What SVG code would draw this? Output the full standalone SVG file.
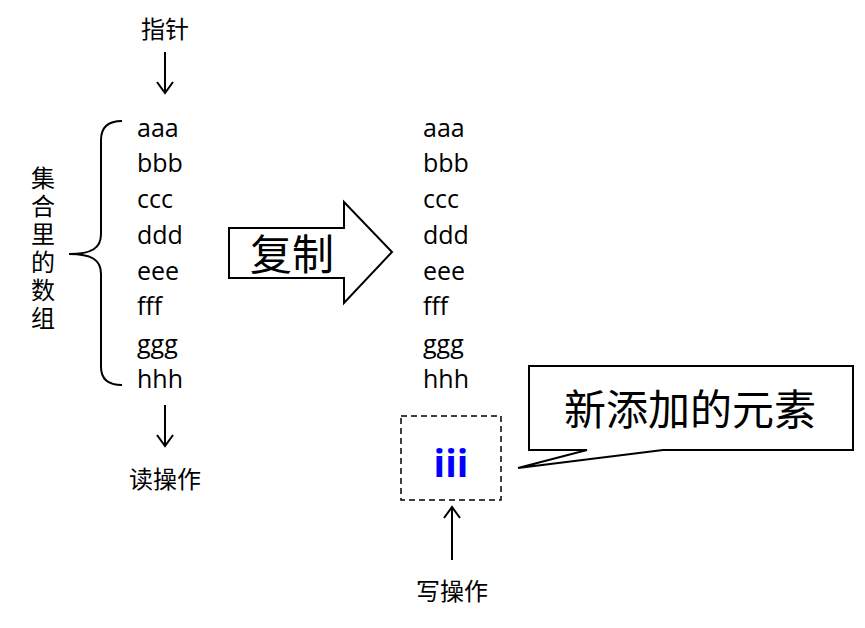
<svg xmlns="http://www.w3.org/2000/svg" width="865" height="628" viewBox="0 0 865 628">
<style>
text{font-family:"Open Sans","Noto Sans CJK SC",sans-serif;fill:#000}
.l{font-size:25px}
.c{font-size:24px}
.ln{fill:none;stroke:#000;stroke-width:2}
</style>
<rect width="865" height="628" fill="#fff"/>
<g id="left-list" class="l">
<text x="137" y="137">aaa</text><text x="137" y="172">bbb</text><text x="137" y="208">ccc</text><text x="137" y="244">ddd</text><text x="137" y="280">eee</text><text x="137" y="315">fff</text><text x="137" y="353">ggg</text><text x="137" y="388">hhh</text>
</g>
<g id="right-list" class="l">
<text x="423" y="137">aaa</text><text x="423" y="172">bbb</text><text x="423" y="208">ccc</text><text x="423" y="244">ddd</text><text x="423" y="280">eee</text><text x="423" y="315">fff</text><text x="423" y="353">ggg</text><text x="423" y="388">hhh</text>
</g>
<g id="pointer"><text class="c" x="165" y="38" text-anchor="middle">指针</text></g>
<g id="read"><text class="c" x="165" y="488" text-anchor="middle">读操作</text></g>
<g id="write"><text class="c" x="452" y="600" text-anchor="middle">写操作</text></g>
<g id="label"><text class="c" x="42" y="166" writing-mode="tb" letter-spacing="4">集合里的数组</text></g>
<g id="brace"><path class="ln" d="M122,121 C108,121 101,128 101,140 L101,234 C101,248 92,254 69,254 C92,254 101,260 101,274 L101,367 C101,379 108,385 122,385"/></g>
<g id="copy-arrow"><path fill="#fff" stroke="#000" stroke-width="2" d="M229,228 L344,228 L344,202 L392,252 L344,303 L344,278 L229,278 Z"/><text x="250" y="270" style="font-size:42px">复制</text></g>
<g id="new-item"><rect x="401" y="416" width="100" height="84" fill="none" stroke="#000" stroke-width="1.5" stroke-dasharray="6,4"/><text x="451" y="477" text-anchor="middle" style="font-size:38px;font-weight:bold;fill:#0000ff">iii</text></g>
<g id="callout"><path fill="#fff" stroke="#000" stroke-width="2" d="M529,366 L853,366 L853,450 L663,450 L518,468 L587,450 L529,450 Z"/><text x="690" y="425" text-anchor="middle" style="font-size:42px">新添加的元素</text></g>
<g id="connectors" class="ln">
<path d="M165,52 V92 M157,82 L165,93 L173,82"/>
<path d="M165,405 V445 M157,435 L165,446 L173,435"/>
<path d="M452,560 V508 M444,518 L452,507 L460,518"/>
</g>
</svg>
